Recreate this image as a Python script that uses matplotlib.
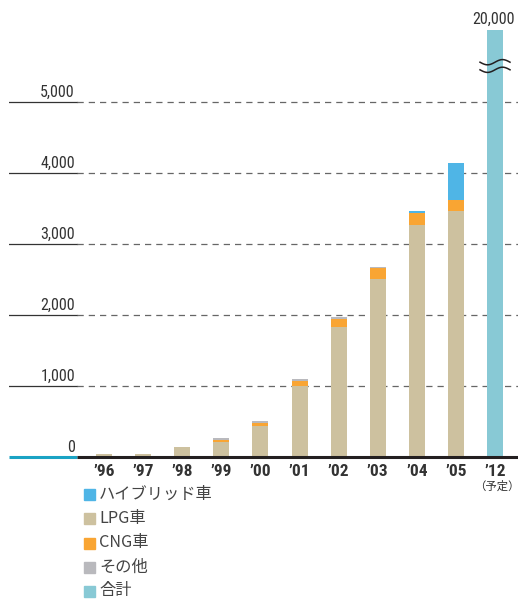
import matplotlib
matplotlib.use("Agg")
import matplotlib.pyplot as plt
from matplotlib.patches import Rectangle
import matplotlib.transforms as mtransforms
import numpy as np

years = ["’96", "’97", "’98", "’99", "’00", "’01", "’02", "’03", "’04", "’05", "’12"]
hybrid = [0, 0, 0, 0, 0, 0, 0, 0, 30, 520, 0]
lpg = [35, 35, 135, 210, 430, 1000, 1830, 2500, 3265, 3460, 0]
cng = [0, 0, 0, 30, 40, 70, 110, 160, 170, 155, 0]
other = [0, 0, 0, 25, 33, 25, 33, 15, 0, 0, 0]
total = [0, 0, 0, 0, 0, 0, 0, 0, 0, 0, 20000]
yticks = [0, 1000, 2000, 3000, 4000, 5000]
ytick_labels = ["0", "1,000", "2,000", "3,000", "4,000", "5,000"]
legend_labels = ["ハイブリッド車", "LPG車", "CNG車", "その他", "合計"]
note_label = "（予定）"
total_label = "20,000"

c_hyb = "#4fb5e6"
c_lpg = "#cdc19f"
c_cng = "#f9a533"
c_oth = "#b9b9bd"
c_tot = "#88c9d5"
txt = "#333333"

NARROW = ["Roboto Condensed", "Liberation Sans Narrow", "DejaVu Sans"]
CJK = ["Noto Sans CJK JP", "DejaVu Sans"]

W, H = 518, 599
fig = plt.figure(figsize=(W / 100, H / 100), dpi=100)
y0px, ytop = 456.7, 30
ax = fig.add_axes([9 / W, (H - y0px) / H, (W - 9) / W, (y0px - ytop) / H])
pxper = 71 / 1000
ax.set_ylim(0, (y0px - ytop) / pxper)
step = 39.1
ax.set_xlim(-(104 - 9) / step, 10 + (W - 495) / step)
xsplit = (77 - 104) / step
for s in ax.spines.values():
    s.set_visible(False)
ax.set_yticks([])

x = list(range(len(years)))
bw = 16 / step
b1 = [l + c for l, c in zip(lpg, cng)]
b2 = [b + o for b, o in zip(b1, other)]
ax.bar(x, lpg, bw, color=c_lpg, zorder=3)
ax.bar(x, cng, bw, bottom=lpg, color=c_cng, zorder=3)
ax.bar(x, other, bw, bottom=b1, color=c_oth, zorder=3)
ax.bar(x, hybrid, bw, bottom=b2, color=c_hyb, zorder=3)
ax.bar(x, total, bw, color=c_tot, zorder=3)

xl = ax.get_xlim()
for v, lab in zip(yticks, ytick_labels):
    if v == 0:
        ax.plot([xl[0], xsplit], [0, 0], color="#1aa3c4", lw=2.2, zorder=4, clip_on=False, solid_capstyle="butt")
        ax.plot([xsplit, xl[1]], [0, 0], color="#231f20", lw=2.2, zorder=4, clip_on=False, solid_capstyle="butt")
    else:
        ax.plot([xl[0], xsplit], [v, v], color="#333333", lw=0.9, zorder=2)
        ax.plot([xsplit, xl[1]], [v, v], color="#666666", lw=0.9, ls=(0, (5, 4)), zorder=2)
    ax.annotate(lab, (xsplit, v), xytext=(-1.5, 1.5), textcoords="offset points",
                ha="right", va="bottom", fontsize=11.5, color=txt, family=NARROW)

ax.set_xticks(x)
ax.set_xticklabels(years, fontsize=12.5, fontweight="bold", color=txt, family=NARROW)
ax.tick_params(axis="x", length=0, pad=5)

ax.text((515 - 9) / (W - 9), 1.0 + 3 / (y0px - ytop), total_label, transform=ax.transAxes,
        ha="right", va="bottom", fontsize=11.5, color=txt, family=NARROW)

# break mark (two waves) around the top of the '12 bar
brk_y = (y0px - 66) / (y0px - ytop)
t = np.linspace(-15, 15, 60)
wave = 2.6 * np.sin(t / 15 * np.pi)
base = mtransforms.blended_transform_factory(ax.transData, ax.transAxes)
for dy in (3.8, -3.8):
    xs = 10 + t / step
    ys = brk_y + (wave + dy) / (y0px - ytop)
    ax.plot(xs, ys, transform=base, color="#231f20", lw=1.1, zorder=6, clip_on=False)

ax.annotate(note_label, (10, 0), xytext=(1, -17), textcoords="offset points",
            ha="center", va="top", fontsize=8.2, color=txt, family=CJK, annotation_clip=False)

colors = [c_hyb, c_lpg, c_cng, c_oth, c_tot]
rows = [494, 518, 543, 567, 591]
for lab, c, yc in zip(legend_labels, colors, rows):
    fig.add_artist(Rectangle((84 / W, 1 - (yc + 5.5) / H), 11 / W, 11 / H,
                             transform=fig.transFigure, color=c))
    fig.text(99 / W, 1 - yc / H, lab, ha="left", va="center", fontsize=11.7,
             color="#444444", family=CJK)

fig.savefig("out.png", dpi=100)
